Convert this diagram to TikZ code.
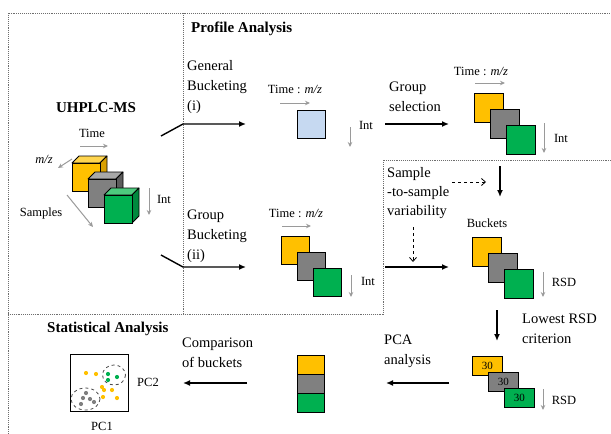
\documentclass[tikz,border=0pt]{standalone}
\usepackage{fontspec}
\setmainfont{Liberation Serif}
\usetikzlibrary{arrows.meta}
\definecolor{cyel}{HTML}{FFC000}
\definecolor{cyelT}{HTML}{FFD54F}
\definecolor{cyelS}{HTML}{D9A000}
\definecolor{cgry}{HTML}{808080}
\definecolor{cgryT}{HTML}{A8A8A8}
\definecolor{cgryS}{HTML}{5C5C5C}
\definecolor{cgrn}{HTML}{00B050}
\definecolor{cgrnT}{HTML}{4DCB7E}
\definecolor{cgrnS}{HTML}{00893E}
\definecolor{cblue}{HTML}{C6D9F1}
\definecolor{arrgray}{HTML}{9A9A9A}
\definecolor{framec}{HTML}{6E6E6E}
\newcommand{\mycube}[6]{%
  \path[fill=#5,draw=black,line width=0.8pt,line join=round] (#2,#3) -- ++(7,-7) -- ++(28,0) -- ++(-7,7) -- cycle;
  \path[fill=#6,draw=black,line width=0.8pt,line join=round] (#2+28,#3) -- ++(7,-7) -- ++(0,28) -- ++(-7,7) -- cycle;
  \node[fill=#4,draw=black,line width=0.8pt,minimum size=28pt,inner sep=0pt,anchor=north west] (#1) at (#2,#3) {};
}
\tikzset{
  big/.style={font=\fontsize{14.5}{20}\selectfont,inner sep=0pt},
  small/.style={font=\fontsize{12.5}{14}\selectfont,inner sep=0pt},
  title/.style={font=\fontsize{15}{18}\selectfont\bfseries,inner sep=0pt},
  sq/.style={draw=black,line width=0.9pt,minimum size=#1,inner sep=0pt,anchor=north west},
  sq/.default=28pt,
  rbox/.style={draw=black,line width=0.9pt,minimum width=30pt,minimum height=19pt,inner sep=0pt,anchor=north west,font=\fontsize{11}{12}\selectfont},
  blk/.style={draw=black,line width=1.4pt,-{Latex[length=7pt,width=6pt]}},
  gry/.style={draw=arrgray,line width=1pt,-{Stealth[length=5pt,width=4.5pt]}},
  dsh/.style={draw=black,line width=0.8pt,dashed,-{Straight Barb[length=4pt,width=7pt]}},
  frm/.style={draw=framec,line width=0.9pt,densely dotted},
  dot/.style={circle,inner sep=0pt,minimum size=4.2pt},
}
\begin{document}
\begin{tikzpicture}[x=1pt,y=-1pt]
\useasboundingbox (0,0) rectangle (611,434);
% frames
\draw[frm] (8,434) -- (8,13) -- (611,13);
\draw[frm] (183,13) -- (183,314);
\draw[frm] (8,314) -- (383,314) -- (383,160) -- (611,160);

% ---------- UHPLC-MS panel
\node[title] (uh) at (96,108) {UHPLC-MS};
\node[small] (tTime) at (92,133) {Time};
\node[small] (tmz) at (44,159) {\textit{m/z}};
\node[small] (tSam) at (41,213) {Samples};
\node[small] (tInt0) at (164,199) {Int};
\mycube{cy}{72}{163}{cyel}{cyelT}{cyelS}
\mycube{cg}{88}{179}{cgry}{cgryT}{cgryS}
\mycube{cn}{104}{195}{cgrn}{cgrnT}{cgrnS}
\coordinate (a1) at (80,146); \coordinate (a2) at (108,146);
\draw[gry] (a1) -- (a2);
\coordinate (b1) at (72,159); \coordinate (b2) at (58,168);
\draw[gry] (b1) -- (b2);
\coordinate (c1) at (67,195); \coordinate (c2) at (93,227);
\draw[gry] (c1) -- (c2);
\coordinate (d1) at (149,188); \coordinate (d2) at (149,215);
\draw[gry] (d1) -- (d2);

% ---------- Profile analysis
\node[title,anchor=west] (pa) at (191,29) {Profile Analysis};
\node[big,anchor=west,align=left] (gb) at (187,87) {General\\Bucketing\\(i)};
\coordinate (s1) at (161,136); \coordinate (s1k) at (183,124); \coordinate (s1e) at (246,124);
\draw[blk] (s1) -- (s1k) -- (s1e);
\node[small] (tm1) at (295,89) {Time : \textit{m/z}};
\coordinate (e1) at (280,103); \coordinate (e2) at (310,103);
\draw[gry] (e1) -- (e2);
\node[sq,fill=cblue] (bsq) at (297,110) {};
\coordinate (f1) at (350,127); \coordinate (f2) at (350,147);
\draw[gry] (f1) -- (f2);
\node[small] (tInt1) at (366,125) {Int};

\node[big,anchor=west,align=left] (gs) at (389,97) {Group\\selection};
\coordinate (g1) at (385,124); \coordinate (g2) at (449,124);
\draw[blk] (g1) -- (g2);
\node[small] (tm2) at (481,71) {Time : \textit{m/z}};
\coordinate (h1) at (475,83); \coordinate (h2) at (505,83);
\draw[gry] (h1) -- (h2);
\node[sq=29pt,fill=cyel] (q1y) at (474,93) {};
\node[sq=29pt,fill=cgry] (q1g) at (490,109) {};
\node[sq=29pt,fill=cgrn] (q1n) at (506,125) {};
\coordinate (i1) at (544,123); \coordinate (i2) at (544,153);
\draw[gry] (i1) -- (i2);
\node[small] (tInt2) at (561,138) {Int};

\node[big,anchor=west,align=left] (grb) at (187,236) {Group\\Bucketing\\(ii)};
\coordinate (s2) at (161,255); \coordinate (s2k) at (183,267); \coordinate (s2e) at (246,267);
\draw[blk] (s2) -- (s2k) -- (s2e);
\node[small] (tm3) at (296,213) {Time : \textit{m/z}};
\coordinate (j1) at (282,226); \coordinate (j2) at (311,226);
\draw[gry] (j1) -- (j2);
\node[sq,fill=cyel] (q2y) at (281,236) {};
\node[sq,fill=cgry] (q2g) at (297,252) {};
\node[sq,fill=cgrn] (q2n) at (313,268) {};
\coordinate (k1) at (351,275); \coordinate (k2) at (351,297);
\draw[gry] (k1) -- (k2);
\node[small] (tInt3) at (368,281) {Int};

% ---------- sample-to-sample
\node[big,anchor=west,align=left,font=\fontsize{14.5}{19}\selectfont] (stv) at (387,193) {Sample\\-to-sample\\variability};
\coordinate (l1) at (452,182); \coordinate (l2) at (486,182);
\draw[dsh] (l1) -- (l2);
\coordinate (m1) at (413,227); \coordinate (m2) at (413,262);
\draw[dsh] (m1) -- (m2);
\coordinate (n1) at (500,166); \coordinate (n2) at (500,197);
\draw[blk] (n1) -- (n2);
\coordinate (o1) at (385,267); \coordinate (o2) at (449,267);
\draw[blk] (o1) -- (o2);
\node[small] (tbk) at (487,223) {Buckets};
\node[sq=29pt,fill=cyel] (q3y) at (472,237) {};
\node[sq=29pt,fill=cgry] (q3g) at (488,253) {};
\node[sq=29pt,fill=cgrn] (q3n) at (504,269) {};
\coordinate (p1) at (543,272); \coordinate (p2) at (543,297);
\draw[gry] (p1) -- (p2);
\node[small] (trsd1) at (564,282) {RSD};

% ---------- lowest RSD
\coordinate (r1) at (497,310); \coordinate (r2) at (497,341);
\draw[blk] (r1) -- (r2);
\node[big,anchor=west,align=left] (lrc) at (522,329) {Lowest RSD\\criterion};
\node[rbox,fill=cyel] (b30y) at (472,356) {30};
\node[rbox,fill=cgry] (b30g) at (488,372) {30};
\node[rbox,fill=cgrn] (b30n) at (504,388) {30};
\coordinate (u1) at (543,389); \coordinate (u2) at (543,410);
\draw[gry] (u1) -- (u2);
\node[small] (trsd2) at (564,400) {RSD};

% ---------- PCA
\node[big,anchor=west,align=left] (pca) at (384,351) {PCA\\analysis};
\coordinate (v1) at (449,383); \coordinate (v2) at (386,383);
\draw[blk] (v1) -- (v2);
\node[draw=black,line width=0.9pt,fill=cyel,minimum width=27pt,minimum height=19pt,inner sep=0pt,anchor=north west] (bar1) at (297,355) {};
\node[draw=black,line width=0.9pt,fill=cgry,minimum width=27pt,minimum height=19pt,inner sep=0pt,anchor=north west] (bar2) at (297,374) {};
\node[draw=black,line width=0.9pt,fill=cgrn,minimum width=27pt,minimum height=19pt,inner sep=0pt,anchor=north west] (bar3) at (297,393) {};

% ---------- statistical analysis
\node[big,anchor=west,align=left] (cob) at (182,353) {Comparison\\of buckets};
\coordinate (w1) at (247,383); \coordinate (w2) at (183,383);
\draw[blk] (w1) -- (w2);
\node[title,anchor=west] (sa) at (47,329) {Statistical Analysis};
\node[draw=black,line width=0.9pt,minimum width=58pt,minimum height=57pt,inner sep=0pt,anchor=north west] (plot) at (70,354) {};
\node[small] (pc2) at (148,382) {PC2};
\node[small] (pc1) at (102,426) {PC1};
\foreach \p in {(86,373),(96,374),(102,387),(104,390),(112,390),(103,397),(117,398)}
  \node[dot,fill=cyel] at \p {};
\foreach \p in {(108,374),(108,380),(117,377)}
  \node[dot,fill=cgrn] at \p {};
\foreach \p in {(86,393),(83,398),(90,399),(94,402),(81,404)}
  \node[dot,fill=cgry] at \p {};
\draw[dashed,line width=0.8pt,draw=black!70] (114,375) ellipse (11.5 and 10);
\draw[dashed,line width=0.8pt,draw=black!70] (85.5,399) ellipse (14.5 and 11);
\end{tikzpicture}
\end{document}
